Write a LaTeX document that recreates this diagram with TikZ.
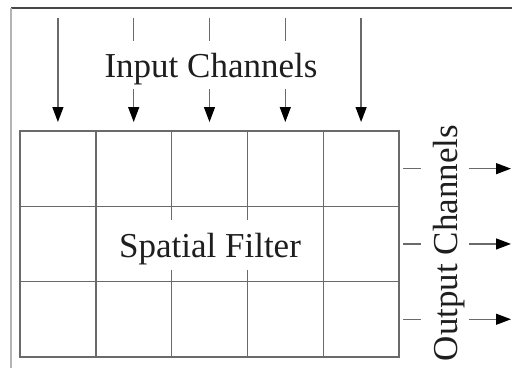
\documentclass[tikz,border=0pt]{standalone}
\usepackage{fontspec}
\setmainfont{Liberation Serif}
\usetikzlibrary{arrows.meta}
\definecolor{gridgray}{HTML}{6A6A6A}
\definecolor{framedark}{HTML}{474747}
\definecolor{framelight}{HTML}{B4B4B4}
\definecolor{inkgray}{HTML}{1E1E1E}
\tikzset{
  cell/.style={draw=gridgray, line width=1.4pt, minimum width=75.8pt,
    minimum height=75.3pt, inner sep=0pt, outer sep=0pt},
  flow/.style={draw=gridgray, line width=1.3pt,
    -{Triangle[length=15pt,width=11pt,fill=black,color=black]}},
  caption/.style={fill=white, text=inkgray, font=\fontsize{35}{40}\selectfont,
    text depth=0pt, inner xsep=10pt, outer sep=0pt}
}
\begin{document}
\begin{tikzpicture}[x=1pt,y=-1pt]
  \useasboundingbox (0,0) rectangle (512,368);
  \fill[white] (0,0) rectangle (512,368);
  % surrounding frame
  \draw[framedark, line width=1.5pt] (11,8) -- (512,8);
  \draw[framelight, line width=2.5pt] (11,8) -- (11,368);
  % 3 x 5 filter grid
  \foreach \r in {1,2,3} {
    \foreach \c in {1,...,5} {
      \node[cell] (c-\r-\c) at ({20+75.8*(\c-0.5)}, {131+75.3*(\r-0.5)}) {};
    }
  }
  % input channels
  \foreach \c in {1,...,5} {
    \coordinate (in-\c) at ({20+75.8*(\c-0.5)}, 18);
    \draw[flow, shorten >=9pt] (in-\c) -- (c-1-\c.north);
  }
  % output channels
  \foreach \r in {1,2,3} {
    \coordinate (out-\r) at (511, {131+75.3*(\r-0.5)});
    \draw[flow, shorten <=4pt] (c-\r-5.east) -- (out-\r);
  }
  % labels
  \node[caption, anchor=base, inner ysep=12pt] (inlabel) at (211,77) {Input Channels};
  \node[caption, anchor=base, inner ysep=13pt] (filterlabel) at (210,257) {Spatial Filter};
  \node[caption, anchor=base, inner ysep=12pt, rotate=90] (outlabel) at (457,243) {Output Channels};
\end{tikzpicture}
\end{document}
